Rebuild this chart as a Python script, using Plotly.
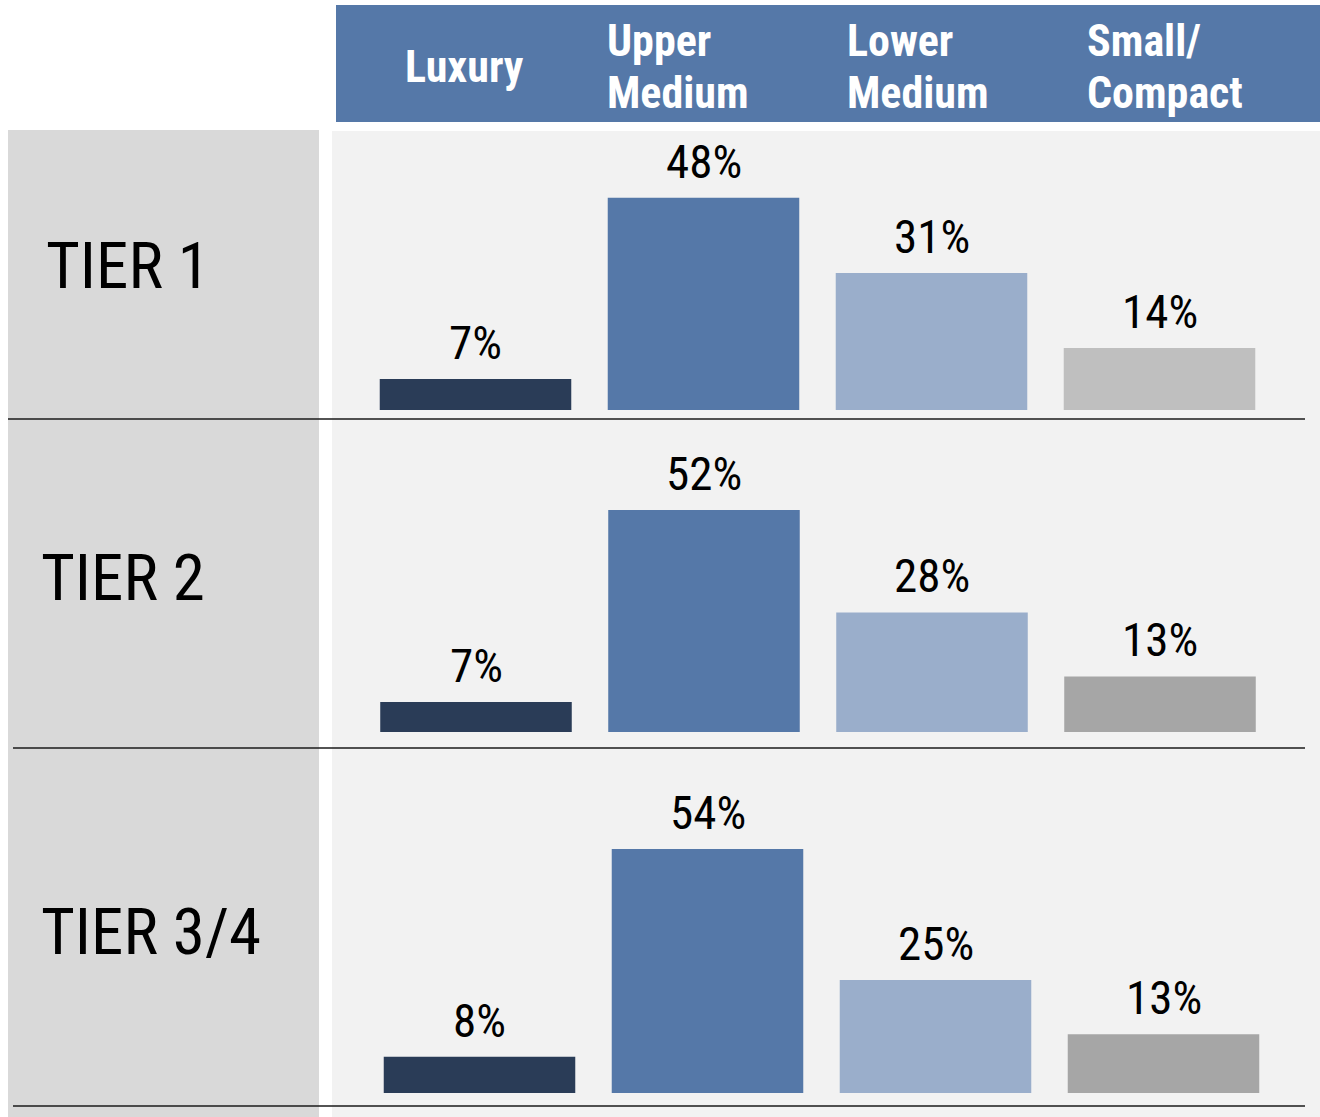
import plotly.graph_objects as go

W, H = 1320, 1117

categories = ["Luxury", "Upper Medium", "Lower Medium", "Small/Compact"]
header_lines = [["Luxury"], ["Upper", "Medium"], ["Lower", "Medium"], ["Small/", "Compact"]]
tiers = ["TIER 1", "TIER 2", "TIER 3/4"]
tier1_values = [7, 48, 31, 14]
tier2_values = [7, 52, 28, 13]
tier34_values = [8, 54, 25, 13]
all_values = [tier1_values, tier2_values, tier34_values]

colors_by_tier = [
    ["#2A3C57", "#5578A8", "#9AAECB", "#BFBFBF"],
    ["#2A3C57", "#5578A8", "#9AAECB", "#A6A6A6"],
    ["#2A3C57", "#5578A8", "#9AAECB", "#A6A6A6"],
]

FONT = "Roboto Condensed, Liberation Sans Narrow, Arial Narrow, DejaVu Sans Condensed, sans-serif"

def py(p):
    return 1 - p / H

def px(p):
    return p / W

# panel geometry in pixels: (x_left, x_right, y_top, y_bottom, pixels per percent)
panels = [
    (361.5, 1273.5, 130, 410, 4.42),
    (362.0, 1274.0, 422, 732, 4.27),
    (365.5, 1277.5, 752, 1093, 4.52),
]

fig = go.Figure()
layout_axes = {}
for i, (vals, cols, (xl, xr, yt, yb, k)) in enumerate(zip(all_values, colors_by_tier, panels)):
    n = "" if i == 0 else str(i + 1)
    fig.add_trace(go.Bar(
        x=categories, y=vals, marker=dict(color=cols, line=dict(width=0)),
        xaxis="x" + n, yaxis="y" + n, showlegend=False, hoverinfo="skip",
    ))
    layout_axes["xaxis" + n] = dict(domain=[px(xl), px(xr)], anchor="y" + n,
                                    range=[-0.5, 3.5], visible=False, fixedrange=True)
    layout_axes["yaxis" + n] = dict(domain=[py(yb), py(yt)], anchor="x" + n,
                                    range=[0, (yb - yt) / k], visible=False, fixedrange=True)
    for c, v in zip(categories, vals):
        fig.add_annotation(x=c, y=v, xref="x" + n, yref="y" + n, text=f"{v}%",
                           showarrow=False, yanchor="bottom", yshift=7,
                           font=dict(family=FONT, size=47, color="#000000"))

fig.update_layout(**layout_axes)

shapes = [
    # header band
    dict(type="rect", xref="paper", yref="paper", x0=px(336), x1=px(1320), y0=py(122), y1=py(5),
         fillcolor="#5578A8", line=dict(width=0), layer="below"),
    # left grey column
    dict(type="rect", xref="paper", yref="paper", x0=px(8), x1=px(319), y0=py(1117), y1=py(130),
         fillcolor="#D9D9D9", line=dict(width=0), layer="below"),
    # plot background
    dict(type="rect", xref="paper", yref="paper", x0=px(332), x1=px(1320), y0=py(1117), y1=py(131),
         fillcolor="#F2F2F2", line=dict(width=0), layer="below"),
]
for y_line, x_start in [(419, 8), (748, 13), (1106, 13)]:
    shapes.append(dict(type="line", xref="paper", yref="paper", x0=px(x_start), x1=px(1305),
                       y0=py(y_line), y1=py(y_line), line=dict(color="#1A1A1A", width=1.5)))
fig.update_layout(shapes=shapes)

# header labels (one annotation per line)
header_x = [403, 605, 845, 1085]
for lines, hx in zip(header_lines, header_x):
    ys = [67] if len(lines) == 1 else [41, 93]
    for line, hy in zip(lines, ys):
        fig.add_annotation(x=px(hx), y=py(hy), xref="paper", yref="paper", text=f"<b>{line}</b>",
                           showarrow=False, xanchor="left", yanchor="middle", align="left",
                           font=dict(family=FONT, size=44, color="#FFFFFF"))

# tier labels
tier_pos = [(44, 266), (39, 578), (39, 932)]
for lab, (tx, ty) in zip(tiers, tier_pos):
    fig.add_annotation(x=px(tx), y=py(ty), xref="paper", yref="paper", text=lab,
                       showarrow=False, xanchor="left", yanchor="middle",
                       font=dict(family=FONT, size=65, color="#000000"))

fig.update_layout(width=W, height=H, margin=dict(l=0, r=0, t=0, b=0),
                  paper_bgcolor="#FFFFFF", plot_bgcolor="rgba(0,0,0,0)", bargap=0.16)

fig.write_html("out.html", config={"displayModeBar": False},
               post_script="document.body.style.margin='0';document.body.style.padding='0';")
